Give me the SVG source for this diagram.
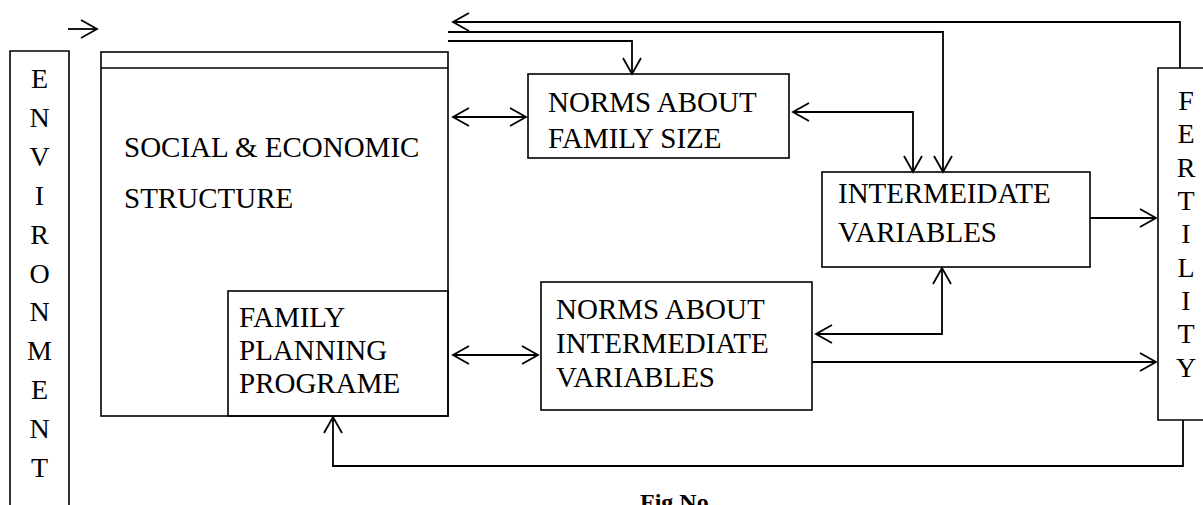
<svg xmlns="http://www.w3.org/2000/svg" width="1203" height="505" viewBox="0 0 1203 505">
<style>
.box{fill:none;stroke:#000;stroke-width:1.6}
.ln{fill:none;stroke:#000;stroke-width:1.8}
.t{font-family:"Liberation Serif","Times New Roman",serif;font-size:29px;fill:#000}
.v{font-family:"Liberation Serif","Times New Roman",serif;font-size:28px;fill:#000;text-anchor:middle}
.cap{font-family:"Liberation Serif","Times New Roman",serif;font-size:24px;font-weight:bold;fill:#000}
</style>
<defs>
<marker id="ah" markerUnits="userSpaceOnUse" markerWidth="20" markerHeight="20" refX="0" refY="0" orient="auto-start-reverse" overflow="visible">
<path d="M-16,-9 L0,0 L-16,9" fill="none" stroke="#000" stroke-width="1.8"/>
</marker>
</defs>
<rect width="1203" height="505" fill="#fff"/>

<g id="environment">
<path class="box" d="M10,505 V51 H69 V505"/>
<text class="v" x="39.5" y="88">E</text>
<text class="v" x="39.5" y="127">N</text>
<text class="v" x="39.5" y="166">V</text>
<text class="v" x="39.5" y="205">I</text>
<text class="v" x="39.5" y="244">R</text>
<text class="v" x="39.5" y="283">O</text>
<text class="v" x="39.5" y="321">N</text>
<text class="v" x="39.5" y="360">M</text>
<text class="v" x="39.5" y="399">E</text>
<text class="v" x="39.5" y="438">N</text>
<text class="v" x="39.5" y="477">T</text>
</g>

<g id="social-economic-structure">
<rect class="box" x="101" y="52" width="347" height="364"/>
<line class="box" x1="101" y1="68" x2="448" y2="68"/>
<text class="t" x="124" y="157">SOCIAL &amp; ECONOMIC</text>
<text class="t" x="124" y="208">STRUCTURE</text>
</g>

<g id="family-planning-programe">
<rect class="box" x="228" y="291" width="220" height="125"/>
<text class="t" x="239" y="327">FAMILY</text>
<text class="t" x="239" y="360">PLANNING</text>
<text class="t" x="239" y="393">PROGRAME</text>
</g>

<g id="norms-family-size">
<rect class="box" x="528" y="74" width="261" height="84"/>
<text class="t" x="548" y="112">NORMS ABOUT</text>
<text class="t" x="548" y="148">FAMILY SIZE</text>
</g>

<g id="norms-intermediate-variables">
<rect class="box" x="541" y="282" width="271" height="128"/>
<text class="t" x="556" y="319">NORMS ABOUT</text>
<text class="t" x="556" y="353">INTERMEDIATE</text>
<text class="t" x="556" y="387">VARIABLES</text>
</g>

<g id="intermediate-variables">
<rect class="box" x="822" y="172" width="268" height="95"/>
<text class="t" x="838" y="203">INTERMEIDATE</text>
<text class="t" x="838" y="242">VARIABLES</text>
</g>

<g id="fertility">
<path class="box" d="M1210,68 H1158 V420 H1210"/>
<text class="v" x="1186" y="110">F</text>
<text class="v" x="1186" y="143">E</text>
<text class="v" x="1186" y="177">R</text>
<text class="v" x="1186" y="210">T</text>
<text class="v" x="1186" y="243">I</text>
<text class="v" x="1186" y="277">L</text>
<text class="v" x="1186" y="310">I</text>
<text class="v" x="1186" y="343">T</text>
<text class="v" x="1186" y="377">Y</text>
</g>

<g id="connectors">
<line class="ln" x1="68" y1="29" x2="97" y2="29" marker-end="url(#ah)"/>
<polyline class="ln" points="1180,68 1180,22 453,22" marker-end="url(#ah)"/>
<polyline class="ln" points="448,32 943,32 943,172" marker-end="url(#ah)"/>
<polyline class="ln" points="448,41 632,41 632,74" marker-end="url(#ah)"/>
<line class="ln" x1="453" y1="117" x2="526" y2="117" marker-start="url(#ah)" marker-end="url(#ah)"/>
<polyline class="ln" points="793,112 913,112 913,172" marker-start="url(#ah)" marker-end="url(#ah)"/>
<line class="ln" x1="1090" y1="218" x2="1156" y2="218" marker-end="url(#ah)"/>
<line class="ln" x1="453" y1="355" x2="538" y2="355" marker-start="url(#ah)" marker-end="url(#ah)"/>
<polyline class="ln" points="816,334 942,334 942,268" marker-start="url(#ah)" marker-end="url(#ah)"/>
<line class="ln" x1="812" y1="362" x2="1156" y2="362" marker-end="url(#ah)"/>
<polyline class="ln" points="1183,420 1183,466 333,466 333,417" marker-end="url(#ah)"/>
</g>

<text class="cap" x="640" y="510">Fig.No</text>
</svg>
